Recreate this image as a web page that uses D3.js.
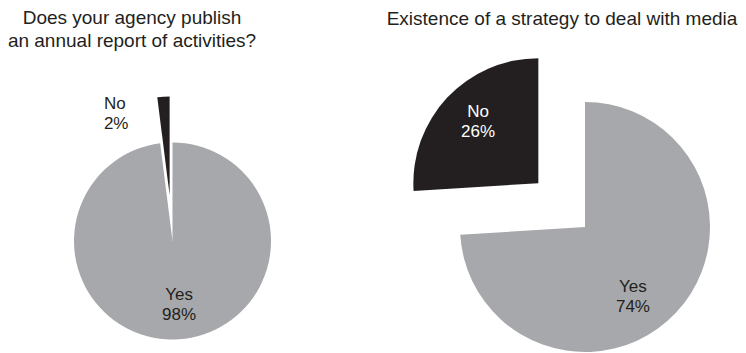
<!DOCTYPE html>
<html>
<head>
<meta charset="utf-8">
<script src="https://cdn.jsdelivr.net/npm/d3@7"></script>
<style>
  body { margin: 0; background: #fff; }
  text { font-family: "Liberation Sans", Arial, Helvetica, sans-serif; }
</style>
</head>
<body>
<div id="chart"></div>
<script>
// Dữ liệu
const leftTitle = ["Does your agency publish", "an annual report of activities?"];
const leftCategories = ["Yes", "No"];
const leftValues = [98, 2];

const rightTitle = ["Existence of a strategy to deal with media"];
const rightCategories = ["Yes", "No"];
const rightValues = [74, 26];

// Kích thước
const W = 746, H = 353;
const colors = { Yes: "#a7a8ab", No: "#231f20" };

const svg = d3.select("#chart")
  .append("svg")
    .attr("width", W)
    .attr("height", H);

// Bố cục từng bánh
// nhãn: góc (độ, từ đỉnh theo chiều kim đồng hồ), bán kính (tỉ lệ r) tính từ tâm bánh
const pies = [
  {
    title: leftTitle, cats: leftCategories, vals: leftValues,
    cx: 172.5, cy: 241, r: 98.5, explode: 46,
    titleX: 132, titleY: 24,
    labels: {
      Yes: { angle: 174, k: 0.64, anchor: "middle", fill: "#231f20" },
      No:  { angle: 331.8, k: 1.474, anchor: "start", fill: "#231f20" }
    }
  },
  {
    title: rightTitle, cats: rightCategories, vals: rightValues,
    cx: 585, cy: 227, r: 125, explode: 64,
    titleX: 562, titleY: 25,
    labels: {
      Yes: { angle: 145.2, k: 0.672, anchor: "middle", fill: "#231f20" },
      No:  { angle: 314.8, k: 1.205, anchor: "middle", fill: "#ffffff" }
    }
  }
];

pies.forEach(p => {
  const data = p.cats.map((c, i) => ({ cat: c, value: p.vals[i] }));

  // Tiêu đề
  const t = svg.append("text")
    .attr("x", p.titleX)
    .attr("y", p.titleY)
    .attr("text-anchor", "middle")
    .style("font-size", "19px")
    .style("fill", "#231f20");
  p.title.forEach((line, i) => {
    t.append("tspan")
      .attr("x", p.titleX)
      .attr("dy", i === 0 ? 0 : 23)
      .text(line);
  });

  const pie = d3.pie()
    .sort(null)
    .value(d => d.value);

  const arc = d3.arc().innerRadius(0).outerRadius(p.r);

  const arcs = pie(data);

  const g = svg.append("g")
    .attr("transform", `translate(${p.cx},${p.cy})`);

  // Lát "No" được tách ra theo hướng phân giác
  const offset = d => {
    if (d.data.cat !== "No") return [0, 0];
    const a = (d.startAngle + d.endAngle) / 2;
    return [Math.sin(a) * p.explode, -Math.cos(a) * p.explode];
  };

  g.selectAll("path")
    .data(arcs)
    .enter()
    .append("path")
      .attr("d", arc)
      .attr("transform", d => `translate(${offset(d)})`)
      .attr("fill", d => colors[d.data.cat]);

  // Nhãn
  arcs.forEach(d => {
    const cfg = p.labels[d.data.cat];
    const a = cfg.angle * Math.PI / 180;
    const lr = cfg.k * p.r;
    const x = Math.sin(a) * lr, y = -Math.cos(a) * lr;
    const lbl = g.append("text")
      .attr("text-anchor", cfg.anchor)
      .style("font-size", "17px")
      .style("fill", cfg.fill);
    lbl.append("tspan").attr("x", x).attr("y", y - 4).text(d.data.cat);
    lbl.append("tspan").attr("x", x).attr("y", y + 16).text(d.data.value + "%");
  });
});
</script>
</body>
</html>
